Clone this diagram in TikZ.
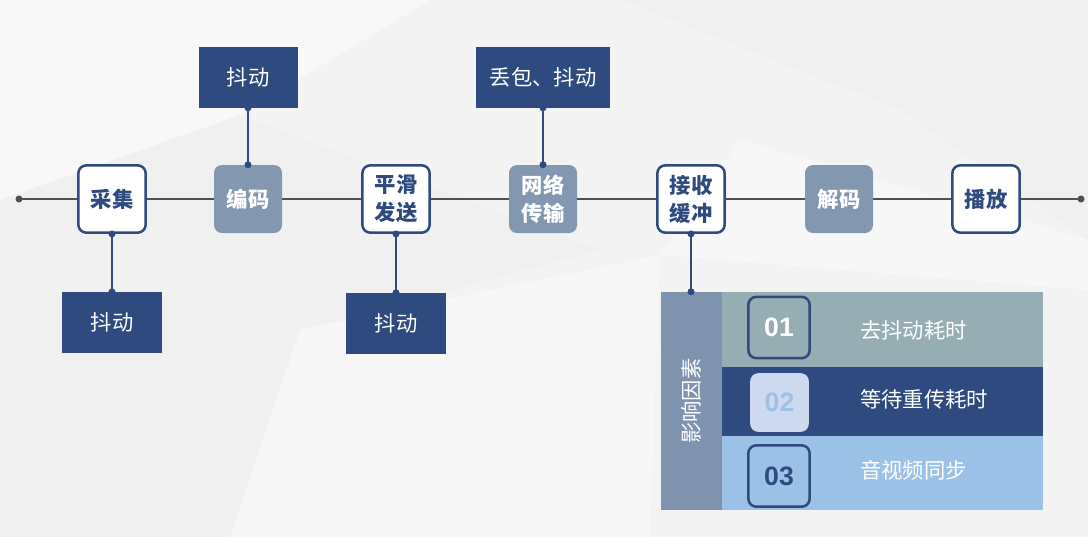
\documentclass[tikz,border=0pt]{standalone}
\usepackage{fontspec}
\setmainfont{Noto Sans CJK SC}
\newfontfamily\numfont{Liberation Sans}

\definecolor{navy}{RGB}{47,74,126}
\definecolor{stagegray}{RGB}{131,151,176}
\definecolor{rowone}{RGB}{149,173,179}
\definecolor{rowthree}{RGB}{155,194,230}
\definecolor{badgefill}{RGB}{205,217,238}
\definecolor{factorgray}{RGB}{127,147,175}
\definecolor{linegray}{RGB}{80,80,80}
\definecolor{bgbase}{RGB}{243,243,243}

\begin{document}
\begin{tikzpicture}[x=0.75pt,y=0.75pt,yscale=-1,xscale=1,
  stagebox/.style={draw=navy,line width=1.9pt,fill=white,rounded corners=6pt,minimum width=50.5pt,minimum height=50.5pt,inner sep=0pt,align=center,text=navy,font=\fontsize{16}{21}\selectfont\bfseries},
  stagefill/.style={fill=stagegray,rounded corners=6pt,minimum width=51pt,minimum height=51pt,inner sep=0pt,align=center,text=white,font=\fontsize{16}{21}\selectfont\bfseries},
  issuebox/.style={fill=navy,text=white,minimum height=45.75pt,inner sep=0pt,font=\fontsize{16}{20}\selectfont},
  link/.style={draw=navy,line width=1.5pt},
  badge/.style={rounded corners=6pt,minimum width=46pt,minimum height=46pt,inner sep=0pt,font=\numfont\fontsize{20}{24}\selectfont\bfseries},
  rowtext/.style={anchor=west,inner sep=0pt,text=white,font=\fontsize{16}{20}\selectfont}
]
\useasboundingbox (0,0) rectangle (1088,537);

%Shape: Background
\fill[bgbase] (0,0) rectangle (1088,537);
\fill[white,opacity=0.45] (0,0) -- (430,0) -- (240,115) -- (0,200) -- cycle;
\fill[black,opacity=0.012] (0,200) -- (240,115) -- (600,250) -- (300,330) -- (0,360) -- cycle;
\fill[white,opacity=0.4] (300,330) -- (660,255) -- (650,537) -- (230,537) -- cycle;
\fill[black,opacity=0.012] (620,0) -- (1088,0) -- (1088,240) -- (900,110) -- cycle;
\fill[white,opacity=0.35] (740,140) -- (1088,240) -- (1088,290) -- (660,255) -- cycle;
\fill[black,opacity=0.01] (0,360) -- (300,330) -- (230,537) -- (0,537) -- cycle;

% Stage nodes
\node[stagebox] (caiji) at (112,199) {采集};
\node[stagefill] (bianma) at (248,199) {编码};
\node[stagebox] (pinghua) at (396,199) {平滑\\发送};
\node[stagefill] (wangluo) at (543,199) {网络\\传输};
\node[stagebox] (jieshou) at (691,199) {接收\\缓冲};
\node[stagefill] (jiema) at (839,199) {解码};
\node[stagebox] (bofang) at (986,199) {播放};

%Straight Lines: main line
\coordinate (lstart) at (19,199);
\coordinate (lend) at (1081,199);
\draw[linegray,line width=1.5pt] (lstart) -- (caiji) -- (bianma) -- (pinghua) -- (wangluo) -- (jieshou) -- (jiema) -- (bofang) -- (lend);
\fill[linegray] (lstart) circle (3.5) (lend) circle (3.5);

% Issue boxes
\node[issuebox,minimum width=74.25pt] (jitterA) at (248,77) {抖动};
\node[issuebox,minimum width=100.5pt] (lossjitter) at (543,77) {丢包、抖动};
\node[issuebox,minimum width=75pt] (jitterB) at (112,322.5) {抖动};
\node[issuebox,minimum width=75pt] (jitterC) at (396,323.5) {抖动};

%Straight Lines: links
\draw[link] (bianma.north) -- (jitterA.south);
\fill[navy] (bianma.north) circle (3.5) (jitterA.south) circle (3.5);
\draw[link] (wangluo.north) -- (lossjitter.south);
\fill[navy] (wangluo.north) circle (3.5) (lossjitter.south) circle (3.5);
\draw[link] (caiji.south) -- (jitterB.north);
\fill[navy] (caiji.south) circle (3.5) (jitterB.north) circle (3.5);
\draw[link] (pinghua.south) -- (jitterC.north);
\fill[navy] (pinghua.south) circle (3.5) (jitterC.north) circle (3.5);

%Shape: Rectangle rows
\fill[rowone] (722,292) rectangle (1043,367);
\fill[navy] (722,367) rectangle (1043,436);
\fill[rowthree] (722,436) rectangle (1043,510);
\node[fill=factorgray,minimum width=45.75pt,minimum height=163.5pt,inner sep=0pt,text=white,font=\fontsize{16}{20}\selectfont] (factor) at (691,401) {\rotatebox{90}{影响因素}};
\draw[link] (jieshou.south) -- (factor.north);
\fill[navy] (jieshou.south) circle (3.5) (factor.north) circle (3.5);

% Badges
\node[badge,draw=navy,line width=1.9pt,text=white] (badgeA) at (779,327.5) {01};
\node[badge,fill=badgefill,text=rowthree,minimum width=44pt,minimum height=44pt] (badgeB) at (779.5,402.5) {02};
\node[badge,draw=navy,line width=1.9pt,text=navy] (badgeC) at (779,476) {03};

% Text Node
\node[rowtext] (factA) at (860,330) {去抖动耗时};
\node[rowtext] (factB) at (860,399) {等待重传耗时};
\node[rowtext] (factC) at (860,470) {音视频同步};

\end{tikzpicture}
\end{document}
